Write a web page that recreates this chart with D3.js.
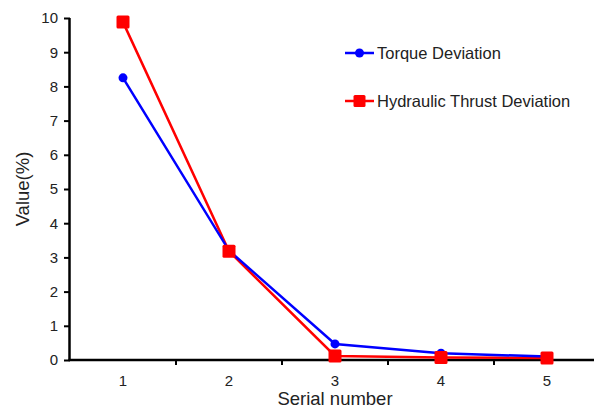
<!DOCTYPE html>
<html>
<head>
<meta charset="utf-8">
<script src="https://cdn.jsdelivr.net/npm/d3@7"></script>
<style>
  html, body { margin: 0; padding: 0; background: #fff; }
  svg { display: block; font-family: Arial, "Liberation Sans", sans-serif; }
</style>
</head>
<body>
<svg id="chart" width="594" height="414"></svg>
<script>
// Deviation values per serial number
const serials = [1, 2, 3, 4, 5];
const torqueDeviation = [8.25, 3.2, 0.47, 0.2, 0.1];
const thrustDeviation = [9.88, 3.18, 0.12, 0.07, 0.06];
const yTicks = [0, 1, 2, 3, 4, 5, 6, 7, 8, 9, 10];
const seriesNames = ["Torque Deviation", "Hydraulic Thrust Deviation"];

const svg = d3.select("#chart");
const margin = { left: 70, top: 18, bottom: 54 };
const height = 414;

const x = d3.scaleBand().domain(serials).range([margin.left, margin.left + 5 * 106]);
const y = d3.scaleLinear().domain([0, 10]).range([height - margin.bottom, margin.top]);

// Y axis
const yAxis = svg.append("g")
  .attr("transform", `translate(${margin.left},0)`)
  .call(d3.axisLeft(y).tickValues(yTicks).tickSize(6).tickPadding(6).tickFormat(d3.format("d")));
yAxis.select(".domain").attr("d", `M-0.5,${y(10)}V${y(0)}`).attr("stroke-width", 2.5);
yAxis.selectAll(".tick line").attr("stroke-width", 2);
yAxis.selectAll(".tick text")
  .style("font-size", "15px")
  .attr("fill", "#222");

// X axis: tick marks sit between categories
const xAxis = svg.append("g")
  .attr("transform", `translate(0,${y(0)})`);
xAxis.append("line")
  .attr("x1", margin.left - 1.5).attr("x2", 594)
  .attr("stroke", "#000").attr("stroke-width", 2.5);
xAxis.selectAll("line.tick")
  .data(serials.slice(1))
  .join("line")
  .attr("class", "tick")
  .attr("x1", d => x(d)).attr("x2", d => x(d))
  .attr("y1", 0).attr("y2", 5)
  .attr("stroke", "#000").attr("stroke-width", 2);
xAxis.selectAll("text.lbl")
  .data(serials)
  .join("text")
  .attr("class", "lbl")
  .attr("x", d => x(d) + x.bandwidth() / 2)
  .attr("y", 26)
  .attr("text-anchor", "middle")
  .style("font-size", "15px")
  .attr("fill", "#222")
  .text(d => d);

// Axis titles
svg.append("text")
  .attr("x", 335).attr("y", 405)
  .attr("text-anchor", "middle")
  .style("font-size", "18.5px")
  .attr("fill", "#222")
  .text("Serial number");
svg.append("text")
  .attr("transform", `translate(29,${189}) rotate(-90)`)
  .attr("text-anchor", "middle")
  .style("font-size", "18.5px")
  .attr("fill", "#222")
  .text("Value(%)");

const cx = d => x(d) + x.bandwidth() / 2;
const line = d3.line().x((d, i) => cx(serials[i])).y(d => y(d));

// Hydraulic thrust series (red squares)
svg.append("path")
  .datum(thrustDeviation)
  .attr("d", line)
  .attr("fill", "none").attr("stroke", "#ff0000").attr("stroke-width", 2.5);
// Torque series (blue circles)
svg.append("path")
  .datum(torqueDeviation)
  .attr("d", line)
  .attr("fill", "none").attr("stroke", "#0000ff").attr("stroke-width", 2.5);

svg.selectAll("circle.torque")
  .data(torqueDeviation)
  .join("circle")
  .attr("class", "torque")
  .attr("cx", (d, i) => cx(serials[i]))
  .attr("cy", d => y(d))
  .attr("r", 4.5)
  .attr("fill", "#0000ff");

const sq = 13;
svg.selectAll("rect.thrust")
  .data(thrustDeviation)
  .join("rect")
  .attr("class", "thrust")
  .attr("x", (d, i) => cx(serials[i]) - sq / 2)
  .attr("y", d => y(d) - sq / 2)
  .attr("width", sq).attr("height", sq)
  .attr("rx", 1.5)
  .attr("fill", "#ff0000");

// Legend
const legend = svg.append("g");
const legendRows = [
  { name: seriesNames[0], color: "#0000ff", shape: "circle", y: 53 },
  { name: seriesNames[1], color: "#ff0000", shape: "square", y: 101 }
];
legendRows.forEach(r => {
  legend.append("line")
    .attr("x1", 345).attr("x2", 374)
    .attr("y1", r.y).attr("y2", r.y)
    .attr("stroke", r.color).attr("stroke-width", 2.5);
  if (r.shape === "circle") {
    legend.append("circle").attr("cx", 359.5).attr("cy", r.y).attr("r", 4.5).attr("fill", r.color);
  } else {
    legend.append("rect").attr("x", 359.5 - 6).attr("y", r.y - 6)
      .attr("width", 12).attr("height", 12).attr("rx", 1.5).attr("fill", r.color);
  }
  legend.append("text")
    .attr("x", 377).attr("y", r.y + 5.5)
    .style("font-size", "16.5px")
    .attr("fill", "#222")
    .text(r.name);
});
</script>
</body>
</html>
